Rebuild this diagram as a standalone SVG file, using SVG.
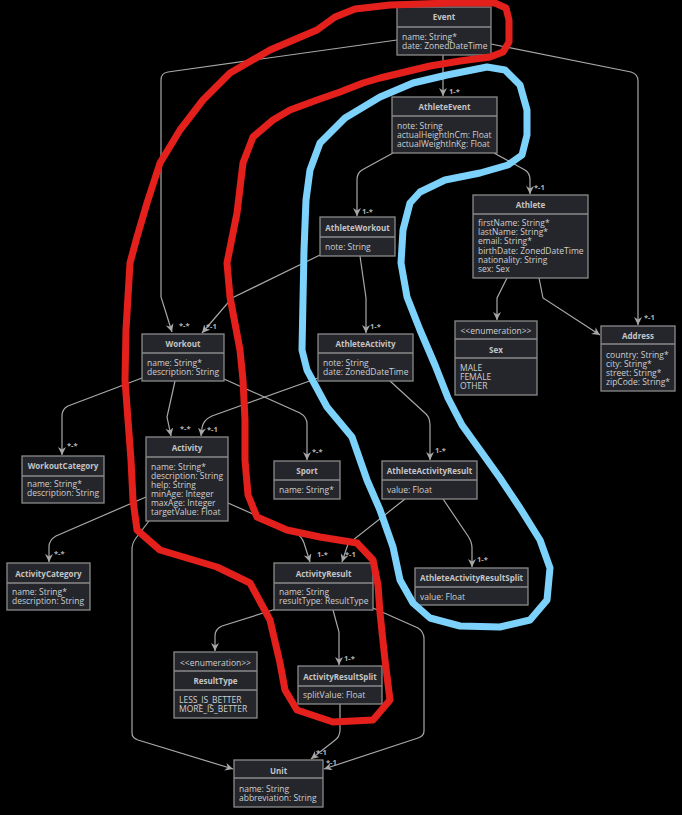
<svg xmlns="http://www.w3.org/2000/svg" width="682" height="815" viewBox="0 0 682 815">
<defs>
<marker id="arr" markerUnits="userSpaceOnUse" markerWidth="10" markerHeight="10" refX="8" refY="4" orient="auto">
<path d="M0,0 L8,4 L0,8 L2.5,4 Z" fill="#a8a8a8"/>
</marker>
<style>
.n rect{fill:#24262c;stroke:#8a8a8a;stroke-width:1.3}
.n line{stroke:#8a8a8a;stroke-width:1.3}
.t{font-family:"Open Sans","Noto Sans",sans-serif;font-size:8px;font-weight:bold;fill:#c4c4c4;text-anchor:middle}
.s{font-family:"Open Sans","Noto Sans",sans-serif;font-size:8.5px;fill:#cfcfcf;text-anchor:middle}
.a{font-family:"Open Sans","Noto Sans",sans-serif;font-size:8.5px;fill:#cfcfcf}
.c path{fill:none;stroke:#a8a8a8;stroke-width:1.2;marker-end:url(#arr)}
.l{font-family:"Open Sans","Noto Sans",sans-serif;font-size:7.5px;font-weight:bold;fill:#b4b4b4}
.red{fill:none;stroke:#e3201c;stroke-width:7;stroke-linejoin:round;stroke-linecap:round}
.blue{fill:none;stroke:#7dd2fb;stroke-width:7;stroke-linejoin:round;stroke-linecap:round}
</style>
</defs>
<rect width="682" height="815" fill="#000"/>

<g class="c">
<path d="M397,40 L168,72 Q161,73 161,80 L161,297 L172,332"/>
<path d="M443,55 L443,96"/>
<path d="M491,44 L631,72 Q638,74 638,81 L638,325"/>
<path d="M393,153 L362,170 Q357,173 357,180 L357,216"/>
<path d="M494,153 L525,170 Q530,173 530,180 L530,194"/>
<path d="M320,255 L232,298 L202,333"/>
<path d="M360,256 L366,298 L366,333"/>
<path d="M507,278 L497,298 L497,320"/>
<path d="M539,278 L543,298 L600,335"/>
<path d="M142,378 L68,406 Q62,409 62,416 L62,455"/>
<path d="M175,381 L167,417 L171,436"/>
<path d="M224,379 L300,413 Q307,417 307,424 L307,460"/>
<path d="M318,378 L212,416 Q203,420 202,428 L201,436"/>
<path d="M390,381 L426,414 Q430,418 430,425 L430,460"/>
<path d="M146,497 L56,536 Q49,540 49,547 L49,562"/>
<path d="M149,521 L136,538 Q132,543 132,550 L132,733 Q132,738 138,740 L233,769"/>
<path d="M228,503 L296,533 Q302,537 304,543 L310,562"/>
<path d="M405,499 L348,544 L342,562"/>
<path d="M443,499 L468,536 Q472,542 472,548 L472,567"/>
<path d="M276,609 L222,626 Q215,629 215,636 L215,651"/>
<path d="M333,610 L339,632 L339,665"/>
<path d="M373,608 L418,628 Q424,632 424,639 L424,731 Q424,736 418,738 L324,769"/>
<path d="M340,704 L340,730 Q340,737 334,741 L311,759"/>
<text class="l" x="179" y="328">*-*</text>
<text class="l" x="449" y="94">1-*</text>
<text class="l" x="644" y="320">*-1</text>
<text class="l" x="362" y="214">1-*</text>
<text class="l" x="534" y="190">*-1</text>
<text class="l" x="206" y="329">*-1</text>
<text class="l" x="370" y="329">1-*</text>
<text class="l" x="67" y="448">*-*</text>
<text class="l" x="180" y="431">*-*</text>
<text class="l" x="312" y="454">*-*</text>
<text class="l" x="207" y="432">*-1</text>
<text class="l" x="435" y="453">1-*</text>
<text class="l" x="54" y="556">*-*</text>
<text class="l" x="317" y="557">1-*</text>
<text class="l" x="345" y="557">*-1</text>
<text class="l" x="477" y="562">1-*</text>
<text class="l" x="344" y="661">1-*</text>
<text class="l" x="316" y="755">*-1</text>
<text class="l" x="326" y="765">*-1</text>
</g>

<g id="Event" class="n"><rect x="397" y="7" width="94" height="48"/><line x1="397" y1="27" x2="491" y2="27"/>
<text class="t" x="444" y="20">Event</text>
<text class="a" x="402" y="40">name: String*</text><text class="a" x="402" y="49">date: ZonedDateTime</text></g>

<g id="AthleteEvent" class="n"><rect x="392" y="97" width="105" height="56"/><line x1="392" y1="116" x2="497" y2="116"/>
<text class="t" x="444.5" y="110">AthleteEvent</text>
<text class="a" x="397" y="129">note: String</text><text class="a" x="397" y="138">actualHeightInCm: Float</text><text class="a" x="397" y="147">actualWeightInKg: Float</text></g>

<g id="AthleteWorkout" class="n"><rect x="320" y="217" width="75" height="39"/><line x1="320" y1="237" x2="395" y2="237"/>
<text class="t" x="357.5" y="231">AthleteWorkout</text>
<text class="a" x="325" y="250">note: String</text></g>

<g id="Athlete" class="n"><rect x="473" y="195" width="115" height="83"/><line x1="473" y1="214" x2="588" y2="214"/>
<text class="t" x="530.5" y="208">Athlete</text>
<text class="a" x="478" y="226">firstName: String*</text><text class="a" x="478" y="235">lastName: String*</text><text class="a" x="478" y="244">email: String*</text><text class="a" x="478" y="254">birthDate: ZonedDateTime</text><text class="a" x="478" y="263">nationality: String</text><text class="a" x="478" y="272">sex: Sex</text></g>

<g id="Workout" class="n"><rect x="142" y="334" width="82" height="47"/><line x1="142" y1="353" x2="224" y2="353"/>
<text class="t" x="183" y="347">Workout</text>
<text class="a" x="147" y="366">name: String*</text><text class="a" x="147" y="375">description: String</text></g>

<g id="AthleteActivity" class="n"><rect x="318" y="334" width="95" height="47"/><line x1="318" y1="353" x2="413" y2="353"/>
<text class="t" x="365.5" y="347">AthleteActivity</text>
<text class="a" x="323" y="366">note: String</text><text class="a" x="323" y="375">date: ZonedDateTime</text></g>

<g id="Sex" class="n"><rect x="455" y="321" width="82" height="74"/><line x1="455" y1="339" x2="537" y2="339"/><line x1="455" y1="358" x2="537" y2="358"/>
<text class="s" x="496" y="334">&lt;&lt;enumeration&gt;&gt;</text>
<text class="t" x="496" y="353">Sex</text>
<text class="a" x="460" y="371">MALE</text><text class="a" x="460" y="380">FEMALE</text><text class="a" x="460" y="389">OTHER</text></g>

<g id="Address" class="n"><rect x="601" y="326" width="74" height="65"/><line x1="601" y1="344" x2="675" y2="344"/>
<text class="t" x="638" y="339">Address</text>
<text class="a" x="606" y="358">country: String*</text><text class="a" x="606" y="367">city: String*</text><text class="a" x="606" y="376">street: String*</text><text class="a" x="606" y="385">zipCode: String*</text></g>

<g id="WorkoutCategory" class="n"><rect x="22" y="456" width="82" height="47"/><line x1="22" y1="476" x2="104" y2="476"/>
<text class="t" x="63" y="469">WorkoutCategory</text>
<text class="a" x="27" y="487">name: String*</text><text class="a" x="27" y="496">description: String</text></g>

<g id="Activity" class="n"><rect x="146" y="437" width="82" height="84"/><line x1="146" y1="457" x2="228" y2="457"/>
<text class="t" x="187" y="451">Activity</text>
<text class="a" x="151" y="470">name: String*</text><text class="a" x="151" y="479">description: String</text><text class="a" x="151" y="488">help: String</text><text class="a" x="151" y="497">minAge: Integer</text><text class="a" x="151" y="506">maxAge: Integer</text><text class="a" x="151" y="515">targetValue: Float</text></g>

<g id="Sport" class="n"><rect x="274" y="461" width="66" height="38"/><line x1="274" y1="480" x2="340" y2="480"/>
<text class="t" x="307" y="474">Sport</text>
<text class="a" x="279" y="493">name: String*</text></g>

<g id="AthleteActivityResult" class="n"><rect x="382" y="461" width="95" height="38"/><line x1="382" y1="480" x2="477" y2="480"/>
<text class="t" x="429.5" y="474">AthleteActivityResult</text>
<text class="a" x="387" y="493">value: Float</text></g>

<g id="ActivityCategory" class="n"><rect x="7" y="563" width="83" height="47"/><line x1="7" y1="583" x2="90" y2="583"/>
<text class="t" x="48.5" y="577">ActivityCategory</text>
<text class="a" x="12" y="595">name: String*</text><text class="a" x="12" y="604">description: String</text></g>

<g id="ActivityResult" class="n"><rect x="274" y="563" width="99" height="47"/><line x1="274" y1="583" x2="373" y2="583"/>
<text class="t" x="323.5" y="577">ActivityResult</text>
<text class="a" x="279" y="595">name: String</text><text class="a" x="279" y="604">resultType: ResultType</text></g>

<g id="AthleteActivityResultSplit" class="n"><rect x="415" y="568" width="113" height="37"/><line x1="415" y1="587" x2="528" y2="587"/>
<text class="t" x="471.5" y="581">AthleteActivityResultSplit</text>
<text class="a" x="420" y="600">value: Float</text></g>

<g id="ResultType" class="n"><rect x="174" y="652" width="83" height="66"/><line x1="174" y1="671" x2="257" y2="671"/><line x1="174" y1="690" x2="257" y2="690"/>
<text class="s" x="215.5" y="666">&lt;&lt;enumeration&gt;&gt;</text>
<text class="t" x="215.5" y="684">ResultType</text>
<text class="a" x="179" y="703">LESS_IS_BETTER</text><text class="a" x="179" y="712">MORE_IS_BETTER</text></g>

<g id="ActivityResultSplit" class="n"><rect x="298" y="666" width="84" height="38"/><line x1="298" y1="686" x2="382" y2="686"/>
<text class="t" x="340" y="680">ActivityResultSplit</text>
<text class="a" x="303" y="698">splitValue: Float</text></g>

<g id="Unit" class="n"><rect x="234" y="760" width="89" height="47"/><line x1="234" y1="778" x2="323" y2="778"/>
<text class="t" x="278.5" y="774">Unit</text>
<text class="a" x="239" y="792">name: String</text><text class="a" x="239" y="801">abbreviation: String</text></g>

<path class="red" d="M317,30 L335,17 L355,9 L390,5 L450,3 L495,3 L506,8 L509,20 L509,42 L503,52 L490,57 L460,61 L430,66 L405,72 L380,78 L363,83 L340,92 L317,100 L290,110 L273,120 L253,137 L243,163 L237,213 L227,263 L230,297 L240,350 L243,380 L245,420 L245,460 L248,495 L257,517 L287,530 L320,537 L357,543 L373,560 L378,585 L380,613 L385,660 L390,700 L373,720 L333,722 L297,710 L285,690 L280,663 L270,620 L250,583 L217,567 L160,550 L137,530 L133,500 L131,460 L128,420 L125,380 L126,330 L130,263 L137,237 L147,203 L160,163 L180,130 L203,100 L230,73 L270,50 L317,30 Z"/>
<path class="blue" d="M302,350 L303,300 L304,250 L306,200 L310,170 L320,143 L345,118 L380,97 L413,83 L447,75 L487,67 L505,70 L520,85 L527,110 L527,135 L522,155 L508,165 L480,173 L445,180 L420,192 L410,203 L403,230 L401,263 L407,297 L420,330 L435,365 L448,398 L462,425 L480,450 L500,478 L520,508 L540,540 L550,568 L547,600 L530,620 L500,627 L460,626 L430,618 L413,603 L400,580 L393,547 L380,510 L367,480 L352,437 L327,407 L307,370 Z"/>
</svg>
